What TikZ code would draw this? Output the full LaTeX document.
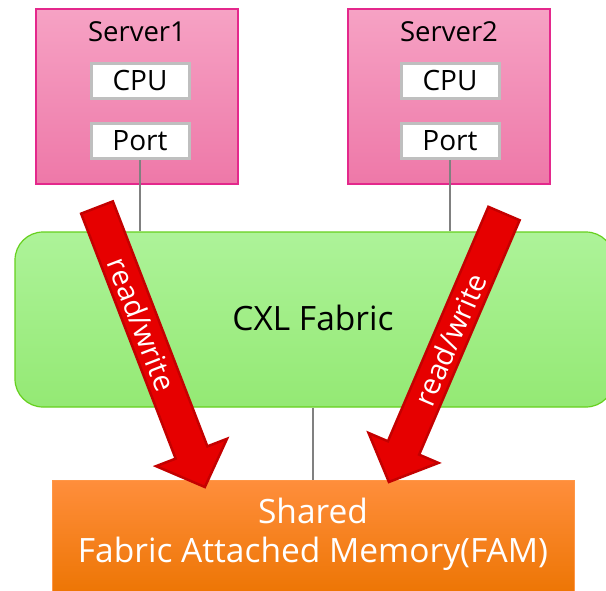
\documentclass[tikz,border=0pt]{standalone}
\usepackage{fontspec}
\setmainfont{Open Sans}
\definecolor{srvtop}{RGB}{246,162,196}
\definecolor{srvbot}{RGB}{238,120,168}
\definecolor{srvline}{RGB}{228,40,140}
\definecolor{boxline}{RGB}{191,191,191}
\definecolor{fabtop}{RGB}{173,243,153}
\definecolor{fabbot}{RGB}{148,233,116}
\definecolor{fabline}{RGB}{102,208,30}
\definecolor{famtop}{RGB}{255,142,60}
\definecolor{fambot}{RGB}{236,116,0}
\definecolor{famline}{RGB}{255,150,70}
\definecolor{rwfill}{RGB}{230,0,0}
\definecolor{rwline}{RGB}{196,0,0}
\definecolor{wire}{RGB}{128,128,128}
\begin{document}
\begin{tikzpicture}[x=1pt,y=-1pt,
  server/.style={draw=srvline, line width=1.4pt, top color=srvtop, bottom color=srvbot,
    minimum width=202pt, minimum height=175pt, inner sep=0pt},
  srvlabel/.style={font=\fontsize{27.5}{32}\selectfont, inner sep=0pt},
  unit/.style={draw=boxline, line width=3pt, fill=white, minimum width=98pt, minimum height=35pt,
    inner sep=0pt, font=\fontsize{28}{32}\selectfont},
  wirestyle/.style={draw=wire, line width=1.6pt},
  fabric/.style={draw=fabline, line width=1.2pt, top color=fabtop, bottom color=fabbot,
    rounded corners=28pt, minimum width=599pt, minimum height=175pt, inner sep=0pt},
  fabtext/.style={inner sep=0pt, font=\fontsize{33.5}{40}\selectfont},
  fam/.style={draw=famline, line width=1pt, top color=famtop, bottom color=fambot,
    minimum width=522pt, minimum height=120pt, inner sep=0pt},
  famtxt/.style={text=white, align=center, font=\fontsize{33.5}{39}\selectfont, inner sep=0pt},
  rwarrow/.style={fill=rwfill, draw=rwline, line width=2.5pt, line join=miter},
  rwtext/.style={text=white, font=\fontsize{29}{33}\selectfont, inner sep=0pt, transform shape}]
\useasboundingbox (0,0) rectangle (606,590);
\clip (0,0) rectangle (606,590);

% fabric and memory
\node[fabric] (fabric) at (314.5,319.5) {};
\node[fabtext] (fabtxt) at (313,318) {CXL Fabric};
\node[fam] (fam) at (313,540) {};
\node[famtxt] (famtext) at (313,534) {Shared\\Fabric Attached Memory(FAM)};

% servers
\node[server] (srv1) at (137,96.5) {};
\node[srvlabel] (srv1lbl) at (137,32) {Server1};
\node[unit] (cpu1) at (140,80.5) {CPU};
\node[unit] (port1) at (140,141) {Port};

\node[server] (srv2) at (449,96.5) {};
\node[srvlabel] (srv2lbl) at (449,32) {Server2};
\node[unit] (cpu2) at (450,80.5) {CPU};
\node[unit] (port2) at (450,141) {Port};

% links
\draw[wirestyle] (port1.south) -- (port1.south |- fabric.north);
\draw[wirestyle] (port2.south) -- (port2.south |- fabric.north);
\draw[wirestyle] (fam.north |- fabric.south) -- (fam.north);

% read/write arrows
\coordinate (tail1) at (97,207.5);
\begin{scope}[shift={(tail1)}, rotate=-68.9]
  \draw[rwarrow] (0,-17) -- (262.6,-17) -- (262.6,-38) -- (299.6,0)
    -- (262.6,38) -- (262.6,17) -- (0,17) -- cycle;
  \node[rwtext] (rw1) at (125,0) {read/write};
\end{scope}

\coordinate (tail2) at (504,213.5);
\begin{scope}[shift={(tail2)}, rotate=-113.2]
  \draw[rwarrow] (0,-17) -- (255.1,-17) -- (255.1,-38) -- (292.1,0)
    -- (255.1,38) -- (255.1,17) -- (0,17) -- cycle;
  \node[rwtext, rotate=180] (rw2) at (137,0) {read/write};
\end{scope}
\end{tikzpicture}
\end{document}
